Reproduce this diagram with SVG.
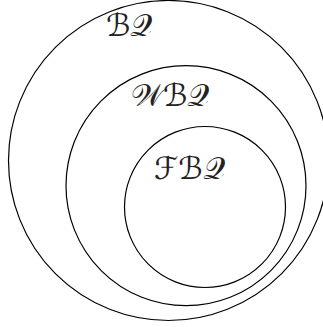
<svg xmlns="http://www.w3.org/2000/svg" width="323" height="327" viewBox="0 0 323 327">
<style>
.c{fill:none;stroke:#000;stroke-width:1.2}
.t{font-family:"DejaVu Serif","DejaVu Sans",serif;font-size:31px;fill:#222}
</style>
<rect width="323" height="327" fill="#fff"/>
<g id="BQ"><circle class="c" cx="168.5" cy="160.5" r="160"/><text class="t" x="106" y="36">ℬ𝒬</text></g>
<g id="WBQ"><circle class="c" cx="186" cy="185.7" r="120"/><text class="t" x="131" y="106">𝒲ℬ𝒬</text></g>
<g id="FBQ"><circle class="c" cx="205" cy="207" r="80.5"/><text class="t" x="154" y="179">ℱℬ𝒬</text></g>
<g id="connectors"/>
</svg>
